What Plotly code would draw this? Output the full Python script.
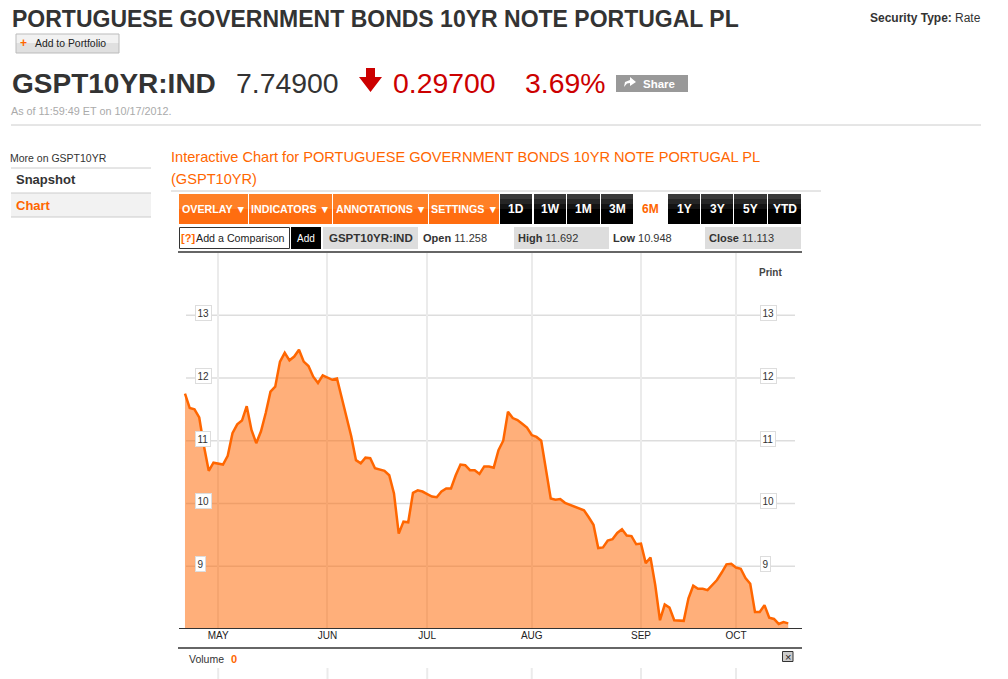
#Portuguese 10yr bond page, 6M chart
import pandas as pd
import plotly.graph_objects as go

W = 1008
H = 679
FONT = "Liberation Sans"
ORANGE = "#ff6600"
RED = "#cc0000"

# values, one per trading day from 20 Apr 2012
yields = [
    11.75, 11.52, 11.50, 11.37, 10.91, 10.52, 10.65, 10.64, 10.62, 10.76,
    11.12, 11.26, 11.32, 11.55, 11.17, 10.96, 11.15, 11.44, 11.78, 11.86,
    12.26, 12.40, 12.28, 12.34, 12.45, 12.26, 12.19, 12.02, 11.92, 12.04,
    12.00, 11.97, 11.99, 11.68, 11.38, 11.07, 10.69, 10.64, 10.73, 10.72,
    10.56, 10.54, 10.52, 10.45, 10.16, 9.52, 9.71, 9.70, 10.17, 10.21,
    10.19, 10.15, 10.11, 10.10, 10.19, 10.24, 10.24, 10.45, 10.62, 10.61,
    10.53, 10.53, 10.47, 10.59, 10.59, 10.57, 10.85, 11.00, 11.46, 11.36,
    11.33, 11.27, 11.21, 11.09, 11.06, 11.00, 10.53, 10.08, 10.06, 10.07,
    10.01, 9.98, 9.95, 9.93, 9.89, 9.78, 9.66, 9.29, 9.30, 9.41,
    9.43, 9.53, 9.59, 9.49, 9.48, 9.35, 9.36, 9.05, 9.14, 8.70,
    8.14, 8.39, 8.34, 8.14, 8.13, 8.13, 8.49, 8.69, 8.64, 8.64,
    8.62, 8.70, 8.78, 8.90, 9.03, 9.04, 8.98, 8.96, 8.81, 8.72,
    8.27, 8.27, 8.38, 8.18, 8.16, 8.08, 8.11, 8.09,
]
dates = [d.strftime("%Y-%m-%d") for d in pd.bdate_range("2012-04-20", periods=len(yields))]

month_ticks = ["2012-05-01", "2012-06-01", "2012-07-02", "2012-08-01", "2012-09-03", "2012-10-01"]
month_labels = ["MAY", "JUN", "JUL", "AUG", "SEP", "OCT"]
y_ticks = [9, 10, 11, 12, 13]

orange_buttons = ["OVERLAY ▼", "INDICATORS ▼", "ANNOTATIONS ▼", "SETTINGS ▼"]
orange_edges = [(179, 248), (249, 332), (333, 428), (429, 499)]
range_buttons = ["1D", "1W", "1M", "3M", "6M", "1Y", "3Y", "5Y", "YTD"]
range_edges = [(500, 532), (534, 566), (567, 600), (601, 633), (634, 667),
               (668, 700), (701, 733), (734, 767), (768, 801)]


def px(x):
    return x / W


def py(y):
    return 1 - y / H


shapes = []
annotations = []


def text(x, y, s, size=11, color="#333333", bold=False, anchor="left"):
    if bold:
        s = "<b>" + s + "</b>"
    if anchor == "left":
        x = x - 1  # annotations sit a pixel right of x
    annotations.append(dict(
        x=px(x), y=py(y), xref="paper", yref="paper", text=s, showarrow=False,
        xanchor=anchor, yanchor="middle", borderpad=0,
        font=dict(family=FONT, size=size, color=color),
    ))


def rect(x0, y0, x1, y1, fill, line=None, width=1):
    shapes.append(dict(
        type="rect", xref="paper", yref="paper", layer="above",
        x0=px(x0), x1=px(x1), y0=py(y0), y1=py(y1), fillcolor=fill,
        line=dict(color=line, width=width) if line else dict(width=0),
    ))


def hline(x0, x1, y, color, width=1):
    shapes.append(dict(
        type="line", xref="paper", yref="paper", layer="above",
        x0=px(x0), x1=px(x1), y0=py(y), y1=py(y),
        line=dict(color=color, width=width),
    ))


def poly(points, fill):
    path = "M " + " L ".join(f"{px(a):.5f},{py(b):.5f}" for a, b in points) + " Z"
    shapes.append(dict(type="path", xref="paper", yref="paper", layer="above",
                       path=path, fillcolor=fill, line=dict(width=0)))


# header
text(12, 19, "PORTUGUESE GOVERNMENT BONDS 10YR NOTE PORTUGAL PL", 23, bold=True)
text(870, 18, "Security Type:", 12, bold=True)
text(955, 18, "Rate", 12)
rect(16, 34, 119, 43, "#f2f2f2")
rect(16, 43, 119, 53, "#e0e0e0")
rect(16, 34, 119, 53, "rgba(0,0,0,0)", "#bbbbbb")
text(20, 43, "+", 12, ORANGE, True)
text(35, 44, "Add to Portfolio", 10.4, "#222222")
text(12, 83, "GSPT10YR:IND", 28, bold=True)
text(236, 83, "7.74900", 28.4)
poly([(366, 68), (375, 68), (375, 77), (382, 77), (370.5, 92), (359, 77), (366, 77)], RED)
text(393, 83, "0.29700", 28.4, RED)
text(525, 83, "3.69%", 28.4, RED)
rect(616, 75, 688, 92, "#999999")
poly([(624, 87), (625, 82), (630, 80), (630, 77), (636, 82), (630, 86), (630, 83), (627, 83.5)], "#ffffff")
text(643, 83.5, "Share", 11.5, "#ffffff", True)
text(11, 111, "As of 11:59:49 ET on 10/17/2012.", 10.8, "#aaaaaa")
hline(11, 981, 125, "#cccccc")

# sidebar
text(10, 158, "More on GSPT10YR", 10.5)
hline(11, 151, 168, "#cccccc")
text(16, 179.5, "Snapshot", 13, bold=True)
rect(11, 193, 151, 217, "#f2f2f2")
hline(11, 151, 193, "#cccccc")
hline(11, 151, 217, "#cccccc")
text(16, 205, "Chart", 13, ORANGE, True)

# chart heading
text(171, 157, "Interactive Chart for PORTUGUESE GOVERNMENT BONDS 10YR NOTE PORTUGAL PL", 14.6, ORANGE)
text(171, 179, "(GSPT10YR)", 14.6, ORANGE)
hline(171, 821, 191, "#cccccc")

# toolbar buttons, the bands fake the gradient
for label, (x0, x1) in zip(orange_buttons, orange_edges):
    rect(x0, 194, x1, 209, "#ff8026")
    rect(x0, 209, x1, 224, "#ff6d10")
    text((x0 + x1) / 2, 209, label, 10.7, "#ffffff", True, "center")
for label, (x0, x1) in zip(range_buttons, range_edges):
    if label == "6M":
        text((x0 + x1) / 2, 209, label, 12, ORANGE, True, "center")
        continue
    rect(x0, 194, x1, 199, "#3a3a3a")
    rect(x0, 199, x1, 204, "#262626")
    rect(x0, 204, x1, 209, "#141414")
    rect(x0, 209, x1, 224, "#000000")
    text((x0 + x1) / 2, 209, label, 12, "#ffffff", True, "center")

# comparison row
rect(179.5, 227.5, 289.5, 248.5, "#ffffff", "#333333")
text(181, 238, "[?]", 11, ORANGE, True)
text(196, 238, "Add a Comparison", 10.7, "#222222")
rect(291, 227, 321, 249, "#000000")
text(306, 238.5, "Add", 10, "#ffffff", False, "center")
rect(323, 227, 418, 249, "#dddddd")
text(329, 238, "GSPT10YR:IND", 11.5, bold=True)
text(423, 238, "<b>Open</b> 11.258", 11)
rect(514, 227, 609, 249, "#dddddd")
text(518, 238, "<b>High</b> 11.692", 11)
text(613, 238, "<b>Low</b> 10.948", 11)
rect(705, 227, 801, 249, "#dddddd")
text(709, 238, "<b>Close</b> 11.113", 11)
hline(178, 802, 252, "#333333", 1.5)
text(759, 272, "Print", 10, "#444444", True)

# chart gridlines, price boxes
for v in y_ticks:
    shapes.append(dict(type="line", xref="paper", yref="y", layer="below",
                       x0=px(186), x1=px(795), y0=v, y1=v,
                       line=dict(color="#dddddd", width=1.5)))
    for x_box in (195, 760):
        annotations.append(dict(
            x=px(x_box), y=v, xref="paper", yref="y", text=str(v), showarrow=False,
            xanchor="left", yshift=2, bgcolor="#ffffff", bordercolor="#dddddd",
            borderwidth=1, borderpad=1.5,
            font=dict(family=FONT, size=10, color="#333333"),
        ))

# volume strip under the chart
hline(178, 802, 648, "#333333", 1.5)
text(189, 659, "Volume", 10.5)
text(231, 659, "0", 11, ORANGE, True)
rect(782.5, 651.5, 793, 661.5, "#cccccc", "#333333")
text(787.7, 656.5, "×", 11, "#222222", False, "center")
for m in month_ticks:
    shapes.append(dict(type="line", xref="x", yref="paper", layer="below",
                       x0=m, x1=m, y0=py(668), y1=py(679),
                       line=dict(color="#ebebeb", width=2)))

fig = go.Figure(go.Scatter(
    x=dates, y=yields, mode="lines", fill="tozeroy",
    fillcolor="rgba(255,102,0,0.52)",
    line=dict(color=ORANGE, width=2.5), hoverinfo="skip",
))

fig.update_layout(
    width=W, height=H, margin=dict(l=0, r=0, t=0, b=0),
    paper_bgcolor="#ffffff", plot_bgcolor="#ffffff",
    showlegend=False, shapes=shapes, annotations=annotations,
    font=dict(family=FONT),
)
fig.update_xaxes(
    type="category", categoryorder="array", categoryarray=dates,
    domain=[px(179), px(802)], range=[-1.26, 129.9],
    tickmode="array", tickvals=month_ticks, ticktext=month_labels,
    tickfont=dict(family=FONT, size=10, color="#222222"), ticks="",
    ticklabelstandoff=-2,
    showgrid=True, gridcolor="#ebebeb", gridwidth=2,
    showline=True, linecolor="#333333", linewidth=1.2, zeroline=False,
)
fig.update_yaxes(
    domain=[py(628), py(253)], range=[8.016, 13.99],
    showgrid=False, showticklabels=False, zeroline=False, showline=False, ticks="",
)

fig.write_html(
    "out.html",
    config={"displayModeBar": False},
    post_script="document.body.style.margin='0';document.body.style.overflow='hidden';",
)
